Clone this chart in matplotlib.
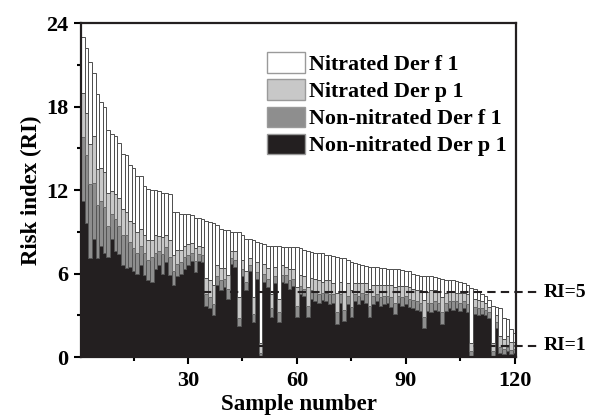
import numpy as np
import matplotlib
matplotlib.use("Agg")
import matplotlib.pyplot as plt
from matplotlib.patches import Patch
from matplotlib.ticker import MultipleLocator
import matplotlib.transforms as mtransforms

plt.rcParams["font.family"] = ["Liberation Serif", "DejaVu Serif"]
plt.rcParams["font.weight"] = "bold"

# per-sample risk index contributions, samples already sorted by total RI
non_nitrated_der_p1 = [
    11.2, 9.6, 7.1, 8.5, 7.1, 8.0, 7.5, 7.2, 8.5, 7.6,
    7.4, 6.6, 6.4, 6.5, 6.2, 6.0, 6.6, 5.9, 5.5, 5.4,
    6.3, 6.6, 6.0, 6.8, 5.9, 5.2, 5.8, 6.0, 6.3, 6.6,
    6.9, 6.1, 6.9, 6.8, 3.7, 3.5, 3.0, 5.2, 4.8, 5.0,
    4.2, 6.7, 6.5, 2.2, 5.8, 4.8, 6.2, 2.5, 5.6, 0.0,
    5.4, 5.0, 2.9, 5.3, 2.5, 5.4, 5.3, 4.9, 5.1, 2.9,
    4.5, 4.4, 2.9, 4.2, 4.0, 3.9, 4.1, 4.0, 3.8, 3.9,
    2.4, 3.9, 2.6, 3.8, 2.9, 4.0, 3.8, 4.1, 3.9, 2.9,
    3.8, 4.0, 3.7, 3.8, 3.9, 3.6, 3.1, 3.9, 3.7, 3.8,
    3.6, 3.5, 3.4, 3.3, 2.1, 3.3, 3.2, 3.4, 3.3, 2.4,
    3.3, 3.5, 3.4, 3.5, 3.3, 3.5, 3.2, 0.0, 3.1, 3.0,
    3.1, 3.0, 2.8, 0.0, 2.1, 0.3, 0.2, 0.4, 0.2, 0.3,
]
non_nitrated_der_f1 = [
    4.6, 4.9, 5.3, 4.0, 3.8, 3.2, 3.3, 2.2, 1.8, 2.3,
    2.0, 2.2, 2.4, 1.8, 1.6, 1.5, 1.4, 1.6, 1.5, 1.8,
    1.2, 1.0, 1.4, 1.1, 1.3, 1.0, 0.9, 0.8, 0.9, 0.7,
    0.6, 0.8, 0.5, 0.5, 0.8, 0.8, 0.8, 0.6, 0.7, 0.6,
    0.7, 0.4, 0.5, 0.6, 0.5, 0.6, 0.4, 0.6, 0.5, 0.3,
    0.6, 0.6, 0.6, 0.5, 0.7, 0.5, 0.6, 0.6, 0.5, 0.8,
    0.6, 0.5, 0.8, 0.6, 0.7, 0.6, 0.5, 0.6, 0.7, 0.6,
    0.8, 0.6, 0.8, 0.6, 0.7, 0.5, 0.6, 0.5, 0.6, 0.8,
    0.6, 0.5, 0.6, 0.6, 0.5, 0.7, 0.8, 0.5, 0.6, 0.6,
    0.6, 0.6, 0.6, 0.6, 0.8, 0.6, 0.7, 0.6, 0.6, 0.8,
    0.6, 0.5, 0.6, 0.5, 0.6, 0.5, 0.6, 0.4, 0.5, 0.5,
    0.4, 0.4, 0.4, 0.4, 0.4, 0.4, 0.4, 0.3, 0.3, 0.3,
]
nitrated_der_p1 = [
    3.2, 3.0, 2.9, 3.4, 2.6, 2.4, 2.5, 2.4, 1.6, 1.8,
    2.0, 1.8, 1.6, 1.5, 1.8, 1.5, 1.2, 1.3, 1.4, 1.2,
    1.3, 1.1, 1.2, 0.9, 1.2, 1.1, 1.0, 0.9, 0.8, 0.8,
    0.7, 0.9, 0.6, 0.6, 1.2, 1.2, 1.4, 0.8, 0.9, 0.8,
    1.0, 0.5, 0.6, 1.5, 0.7, 0.8, 0.5, 1.2, 0.7, 0.7,
    0.7, 0.8, 1.0, 0.7, 1.0, 0.7, 0.6, 0.8, 0.7, 1.3,
    0.8, 0.9, 1.3, 0.9, 0.9, 1.0, 0.8, 0.9, 1.0, 0.8,
    1.4, 0.9, 1.3, 0.9, 1.2, 0.8, 0.9, 0.7, 0.8, 1.2,
    0.8, 0.7, 0.9, 0.8, 0.8, 0.9, 1.1, 0.7, 0.8, 0.7,
    0.8, 0.8, 0.8, 0.9, 1.2, 0.8, 0.9, 0.8, 0.8, 1.1,
    0.7, 0.7, 0.7, 0.6, 0.7, 0.6, 0.7, 0.6, 0.6, 0.6,
    0.5, 0.5, 0.4, 0.6, 0.5, 0.8, 0.7, 0.8, 0.6, 0.5,
]
nitrated_der_f1 = [
    4.0, 4.7, 5.9, 4.5, 5.4, 4.7, 4.7, 4.5, 4.1, 4.2,
    4.0, 4.0, 4.1, 4.0, 4.0, 4.0, 3.8, 3.5, 3.7, 3.6,
    3.2, 3.2, 3.2, 3.0, 3.3, 3.1, 2.7, 2.6, 2.3, 2.2,
    2.0, 2.2, 2.0, 2.0, 4.1, 4.2, 4.4, 2.9, 2.8, 2.7,
    3.2, 1.4, 1.4, 4.7, 1.8, 2.3, 1.4, 4.1, 1.5, 7.2,
    1.4, 1.6, 3.5, 1.5, 3.8, 1.3, 1.4, 1.6, 1.6, 2.9,
    1.9, 1.9, 2.6, 1.85, 1.9, 2.0, 2.05, 1.85, 1.8, 1.95,
    2.6, 1.75, 2.4, 1.7, 2.05, 1.45, 1.35, 1.3, 1.25, 1.6,
    1.25, 1.25, 1.2, 1.2, 1.15, 1.15, 1.3, 1.2, 1.15, 1.1,
    1.2, 1.1, 1.1, 1.05, 1.75, 1.1, 1.0, 0.95, 1.0, 1.3,
    0.95, 0.8, 0.8, 0.85, 0.8, 0.75, 0.7, 3.95, 0.7, 0.6,
    0.5, 0.5, 0.5, 2.7, 0.6, 2.0, 1.5, 1.2, 0.9, 0.6,
]
samples = np.arange(1, len(non_nitrated_der_p1) + 1)

# reference lines as drawn in the figure
ri_lines = [4.65, 0.8]
ri_labels = ["RI=5", "RI=1"]

layers = [
    ("Non-nitrated Der p 1", non_nitrated_der_p1, "#231f20", "#231f20"),
    ("Non-nitrated Der f 1", non_nitrated_der_f1, "#8e8e8e", "#555555"),
    ("Nitrated Der p 1", nitrated_der_p1, "#c8c8c8", "#6a6a6a"),
    ("Nitrated Der f 1", nitrated_der_f1, "#ffffff", "#4d4d4d"),
]

fig = plt.figure(figsize=(5.9, 4.16), dpi=100)
ax = fig.add_axes([0.1373, 0.1418, 0.7381, 0.8029])

bottom = np.zeros(len(samples))
for name, vals, fc, ec in layers:
    vals = np.array(vals)
    ax.bar(samples, vals, width=1.0, bottom=bottom, color=fc, edgecolor=ec,
           linewidth=0.7, label=name)
    bottom += vals

ax.set_xlim(0.5, 120.5)
ax.set_ylim(0, 24)
ax.xaxis.set_major_locator(MultipleLocator(30))
ax.xaxis.set_minor_locator(MultipleLocator(15))
ax.yaxis.set_major_locator(MultipleLocator(6))
ax.yaxis.set_minor_locator(MultipleLocator(3))
ax.tick_params(which="both", direction="out", width=1.5, labelsize=16)
ax.tick_params(which="major", length=5, pad=4)
ax.tick_params(axis="x", which="major", pad=5)
ax.tick_params(which="minor", length=3)
for s in ax.spines.values():
    s.set_linewidth(1.6)
    s.set_color("#231f20")

ax.set_xlabel("Sample number", fontsize=16.5, fontweight="bold", labelpad=2)
ax.set_ylabel("Risk index (RI)", fontsize=16.5, fontweight="bold", labelpad=3)

# dashed RI thresholds, running past the right spine to their labels
trans = mtransforms.blended_transform_factory(ax.transAxes, ax.transData)
for yv, lab in zip(ri_lines, ri_labels):
    ax.plot([0, 1.05], [yv, yv], transform=trans, color="#231f20", lw=1.5,
            dashes=(4, 2.5), clip_on=False, zorder=5)
    ax.text(1.062, yv, lab, transform=trans, fontsize=14, fontweight="bold",
            va="center", ha="left")

handles = [Patch(facecolor=fc, edgecolor="#9a9a9a", linewidth=1.0, label=name)
           for name, vals, fc, ec in layers[::-1]]
leg = ax.legend(handles=handles, loc="upper left", bbox_to_anchor=(0.453, 0.874),
                bbox_transform=fig.transFigure, frameon=False, fontsize=15.8,
                handlelength=1.7, handleheight=1.05, handletextpad=0.2,
                labelspacing=0.2, borderpad=0, borderaxespad=0)

fig.savefig("out.png", dpi=100)
